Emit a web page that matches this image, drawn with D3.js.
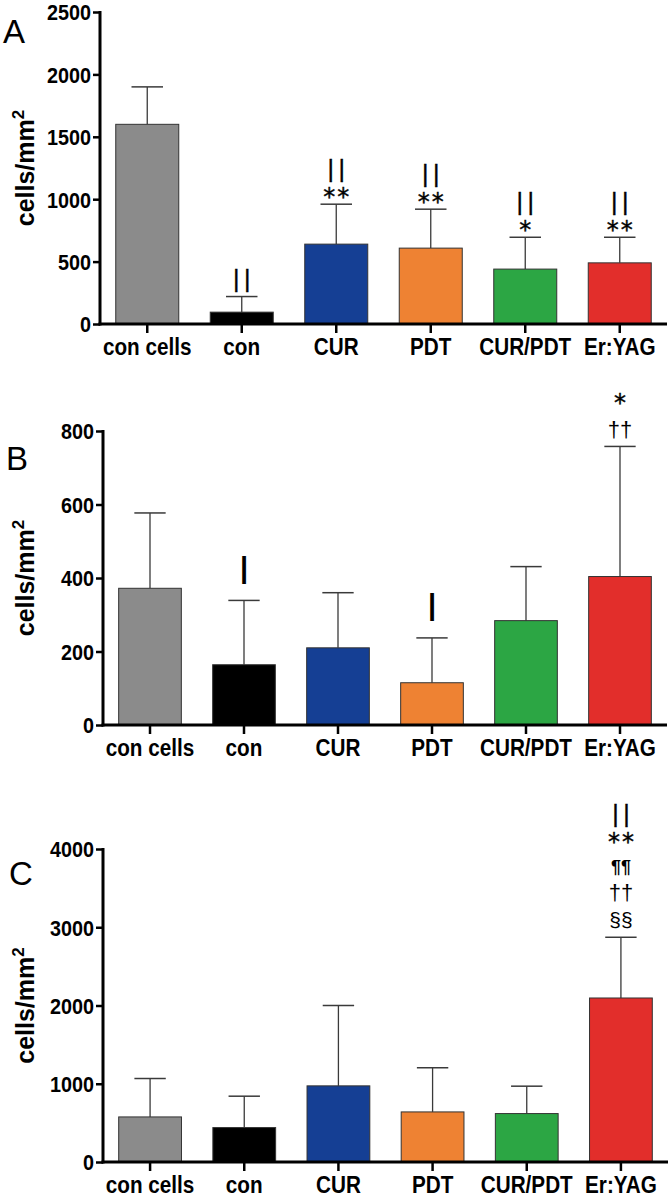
<!DOCTYPE html>
<html lang="en">
<head>
<meta charset="UTF-8">
<title>cells/mm2 bar panels</title>
<script src="https://cdn.jsdelivr.net/npm/d3@7"></script>
<style>
  body { margin: 0; background: #ffffff; }
  svg text { font-family: "Liberation Sans", Arial, sans-serif; fill: #000; }
</style>
</head>
<body>
<svg id="fig" width="672" height="1199"></svg>
<script>
// groups and fills
var categories = ["con cells", "con", "CUR", "PDT", "CUR/PDT", "Er:YAG"];
var barColors = ["#8b8b8b", "#000000", "#153f94", "#ee8233", "#2ca644", "#e22e2b"];

// panel A
var meansA = [1600, 95, 640, 608, 440, 490];
var upperA = [1900, 220, 960, 920, 695, 695];
var ticksA = [0, 500, 1000, 1500, 2000, 2500];
var marksA = [[], ["||"], ["**", "||"], ["**", "||"], ["*", "||"], ["**", "||"]];

// panel B
var meansB = [372, 164, 210, 115, 284, 404];
var upperB = [577, 339, 360, 237, 431, 758];
var ticksB = [0, 200, 400, 600, 800];
var marksB = [[], ["|"], [], ["|"], [], ["††", "*"]];

// panel C
var meansC = [576, 440, 973, 640, 619, 2096];
var upperC = [1067, 841, 2000, 1204, 969, 2872];
var ticksC = [0, 1000, 2000, 3000, 4000];
var marksC = [[], [], [], [], [], ["§§", "††", "¶¶", "**", "||"]];

var panels = [
  {letter: "A", means: meansA, upper: upperA, ticks: ticksA, marks: marksA,
   top: 12, bottom: 324, left: 100, right: 667, lx: 3, ly: 43},
  {letter: "B", means: meansB, upper: upperB, ticks: ticksB, marks: marksB,
   top: 431, bottom: 725, left: 103, right: 667, lx: 6, ly: 470},
  {letter: "C", means: meansC, upper: upperC, ticks: ticksC, marks: marksC,
   top: 849, bottom: 1162, left: 103, right: 668, lx: 9, ly: 885}
];

// how each significance glyph is drawn: h = visual height used for stacking,
// gap = space down to the previous glyph, base = glyph centre to baseline (em)
var symStyle = {
  "||": {size: 23, ls: 5, weight: "normal", family: "Liberation Sans", h: 22, gap: 1.5, base: 0.26, stroke: 0.5},
  "|":  {size: 29, ls: 0, weight: "bold", family: "Liberation Sans", h: 50, gap: 8, base: 0.26, stroke: 0},
  "**": {size: 24, ls: 2, weight: "normal", family: "DejaVu Sans", h: 16, gap: 14, base: 0.57, stroke: 0.4},
  "*":  {size: 24, ls: 0, weight: "normal", family: "DejaVu Sans", h: 16, gap: 14, base: 0.57, stroke: 0.4},
  "††": {size: 22, ls: 0, weight: "normal", family: "Liberation Sans", h: 22, gap: 6, base: 0.3, stroke: 0},
  "¶¶": {size: 18, ls: 0, weight: "bold", family: "Liberation Sans", h: 20, gap: 4, base: 0.26, stroke: 0},
  "§§": {size: 21, ls: 0, weight: "normal", family: "Liberation Sans", h: 22, gap: 8, base: 0.26, stroke: 0}
};

var svg = d3.select("#fig");

panels.forEach(function(p) {
  var g = svg.append("g");

  var x = d3.scaleBand()
    .domain(categories)
    .range([p.left, p.right])
    .paddingInner(1 / 3)
    .paddingOuter(1 / 6);

  var y = d3.scaleLinear()
    .domain([0, p.ticks[p.ticks.length - 1]])
    .range([p.bottom, p.top]);

  var rows = categories.map(function(c, i) {
    return {cat: c, mean: p.means[i], upper: p.upper[i], color: barColors[i], marks: p.marks[i]};
  });

  // error bars (drawn first so the bar covers the lower half)
  var eb = g.selectAll(".err").data(rows).enter().append("g").attr("class", "err");
  eb.append("line")
    .attr("x1", function(d) { return x(d.cat) + x.bandwidth() / 2; })
    .attr("x2", function(d) { return x(d.cat) + x.bandwidth() / 2; })
    .attr("y1", function(d) { return y(d.mean); })
    .attr("y2", function(d) { return y(d.upper); })
    .attr("stroke", "#3a3a3a").attr("stroke-width", 1.3);
  eb.append("line")
    .attr("x1", function(d) { return x(d.cat) + x.bandwidth() / 4; })
    .attr("x2", function(d) { return x(d.cat) + x.bandwidth() * 3 / 4; })
    .attr("y1", function(d) { return y(d.upper); })
    .attr("y2", function(d) { return y(d.upper); })
    .attr("stroke", "#3a3a3a").attr("stroke-width", 1.5);

  g.selectAll(".bar").data(rows).enter().append("rect")
    .attr("class", "bar")
    .attr("x", function(d) { return x(d.cat); })
    .attr("width", x.bandwidth())
    .attr("y", function(d) { return y(d.mean); })
    .attr("height", function(d) { return y(0) - y(d.mean); })
    .attr("fill", function(d) { return d.color; })
    .attr("stroke", "#333")
    .attr("stroke-width", 1);

  // y axis
  var ya = g.append("g")
    .attr("transform", "translate(" + p.left + ",0)")
    .call(d3.axisLeft(y).tickValues(p.ticks).tickFormat(d3.format("d")).tickSize(7).tickPadding(3));
  ya.select(".domain").attr("stroke-width", 3).attr("d", "M0," + (p.top - 1) + "V" + (p.bottom + 1.5));
  ya.selectAll(".tick line").attr("stroke-width", 2.5);
  ya.selectAll(".tick text")
    .attr("transform", "scale(0.9,1)")
    .style("font-size", "22px").style("font-weight", "bold").attr("dy", "0.36em");

  // x axis
  var xa = g.append("g")
    .attr("transform", "translate(0," + p.bottom + ")")
    .call(d3.axisBottom(x).tickSize(9).tickPadding(6));
  xa.select(".domain").attr("stroke-width", 3).attr("d", "M" + (p.left - 1.5) + ",0H" + p.right);
  xa.selectAll(".tick line").attr("stroke-width", 2.5);
  xa.selectAll(".tick text")
    .attr("transform", "scale(0.9,1)")
    .style("font-size", "23px").style("font-weight", "bold");

  // y label
  var yl = g.append("text")
    .attr("transform", "translate(34," + ((p.top + p.bottom) / 2) + ") rotate(-90)")
    .attr("text-anchor", "middle")
    .style("font-size", "25px").style("font-weight", "bold");
  yl.append("tspan").text("cells/mm");
  yl.append("tspan").attr("dy", -10).style("font-size", "17px").text("2");

  // panel letter
  g.append("text")
    .attr("x", p.lx).attr("y", p.ly)
    .style("font-size", "33px")
    .text(p.letter);

  // significance marks stacked above each error cap, one label per bar
  rows.forEach(function(d) {
    if (!d.marks.length) return;
    var cursor = y(d.upper) - 5;
    var cx = x(d.cat) + x.bandwidth() / 2;
    var label = g.append("text").attr("text-anchor", "middle");
    d.marks.forEach(function(m, k) {
      var s = symStyle[m];
      if (k > 0) cursor -= s.gap;
      var cy = cursor - s.h / 2;
      label.append("tspan")
        .attr("x", cx + s.ls / 2)
        .attr("y", cy + s.base * s.size)
        .attr("stroke", s.stroke ? "#000" : "none")
        .attr("stroke-width", s.stroke)
        .style("font-family", s.family)
        .style("font-size", s.size + "px")
        .style("font-weight", s.weight)
        .style("letter-spacing", s.ls + "px")
        .text(m);
      cursor -= s.h;
    });
  });
});
</script>
</body>
</html>
